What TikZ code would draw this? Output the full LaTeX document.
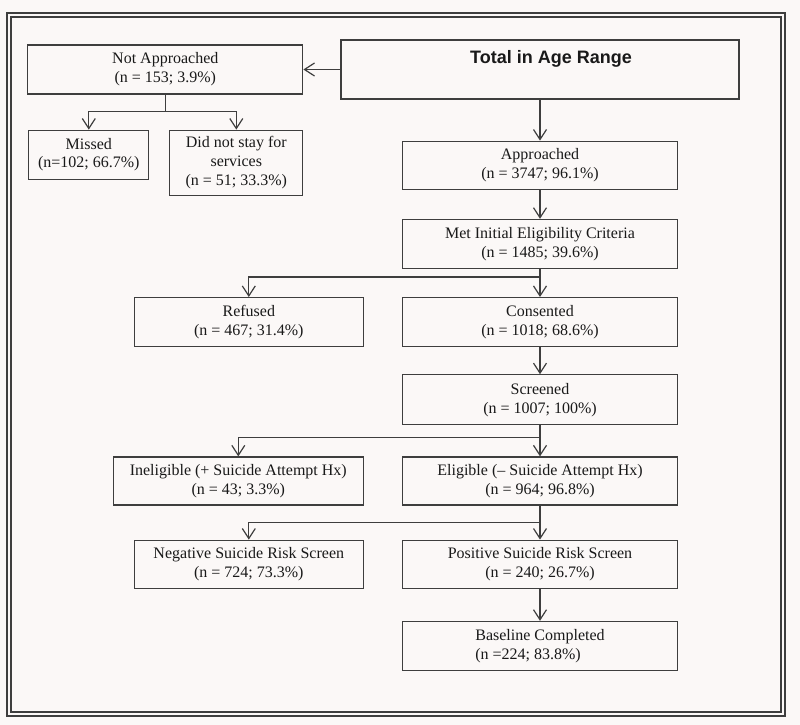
\documentclass[tikz,border=0pt]{standalone}
\usepackage{fontspec}
\setmainfont{Liberation Serif}
\newfontfamily\headfont{Liberation Sans}
\definecolor{mline}{RGB}{62,62,62}
\definecolor{mtext}{RGB}{25,25,25}
\definecolor{mpaper}{RGB}{251,248,247}
\usetikzlibrary{arrows.meta,positioning}
\tikzset{
  box/.style={rectangle,draw=mline,line width=1.2pt,text=mtext,align=center,
    minimum width=#1,minimum height=48pt,inner sep=2pt,
    font=\fontsize{16}{18.8}\selectfont},
  box/.default=275pt,
  arr/.style={-{Straight Barb[length=10pt,width=13pt]},line width=1.2pt,draw=mline},
  rim/.style={draw=mline,line width=#1},
}

\begin{document}
\begin{tikzpicture}
  \useasboundingbox[fill=mpaper] (0,0) rectangle (800pt,-725pt);
  \draw[rim=1.8pt] (7pt,-13pt) rectangle (785pt,-716pt);
  \draw[rim=1.1pt] (11pt,-17pt) rectangle (781pt,-712pt);

  \node[box=398pt,minimum height=59pt] (total) at (540pt,-69.5pt) {};
  \node[font=\headfont\bfseries\fontsize{18}{21}\selectfont,text=mtext,
    below=8pt of total.north,xshift=11pt] (totaltxt) {Total in Age Range};

  \node[box,minimum height=49pt,left=37pt of total] (na)
    {Not Approached\\(n = 153; 3.9\%)};
  \node[box=120pt,minimum height=49pt,below right=35pt and 1pt of na.south west] (missed)
    {Missed\\(n=102; 66.7\%)};
  \node[box=133pt,minimum height=65pt,below left=35pt and 0pt of na.south east] (dns)
    {Did not stay for\\services\\(n = 51; 33.3\%)};

  \node[box,below=41pt of total] (appr) {Approached\\(n = 3747; 96.1\%)};
  \node[box,minimum height=49pt,below=29pt of appr] (met)
    {Met Initial Eligibility Criteria\\(n = 1485; 39.6\%)};
  \node[box,minimum height=49pt,below=28pt of met] (cons) {Consented\\(n = 1018; 68.6\%)};
  \node[box=229pt,minimum height=49pt,left=38pt of cons] (ref) {Refused\\(n = 467; 31.4\%)};
  \node[box,minimum height=50pt,below=27pt of cons] (scr) {Screened\\(n = 1007; 100\%)};
  \node[box,below=31pt of scr] (elig) {Eligible (-- Suicide Attempt Hx)\\(n = 964; 96.8\%)};
  \node[box=250pt,left=38pt of elig] (inel) {Ineligible (+ Suicide Attempt Hx)\\(n = 43; 3.3\%)};
  \node[box,below=34pt of elig] (pos) {Positive Suicide Risk Screen\\(n = 240; 26.7\%)};
  \node[box=229pt,left=38pt of pos] (neg) {Negative Suicide Risk Screen\\(n = 724; 73.3\%)};
  \node[box,minimum height=49pt,align=left,below=32pt of pos] (base)
    {Baseline Completed\\(n =224; 83.8\%)};

  \draw[arr] (total.west) -- (total.west -| na.east);
  \draw[arr] (na.south) -- ++(0,-17pt) -| (missed.north);
  \draw[arr] (na.south) -- ++(0,-17pt) -| (dns.north);
  \draw[arr] (total) -- (appr);
  \draw[arr] (appr) -- (met);
  \draw[arr] (met) -- (cons);
  \draw[arr] (met.south) -- ++(0,-8pt) -| (ref.north);
  \draw[arr] (cons) -- (scr);
  \draw[arr] (scr) -- (elig);
  \draw[arr] (scr.south) -- ++(0,-12pt) -| (inel.north);
  \draw[arr] (elig) -- (pos);
  \draw[arr] (elig.south) -- ++(0,-17pt) -| (neg.north);
  \draw[arr] (pos) -- (base);
\end{tikzpicture}
\end{document}
